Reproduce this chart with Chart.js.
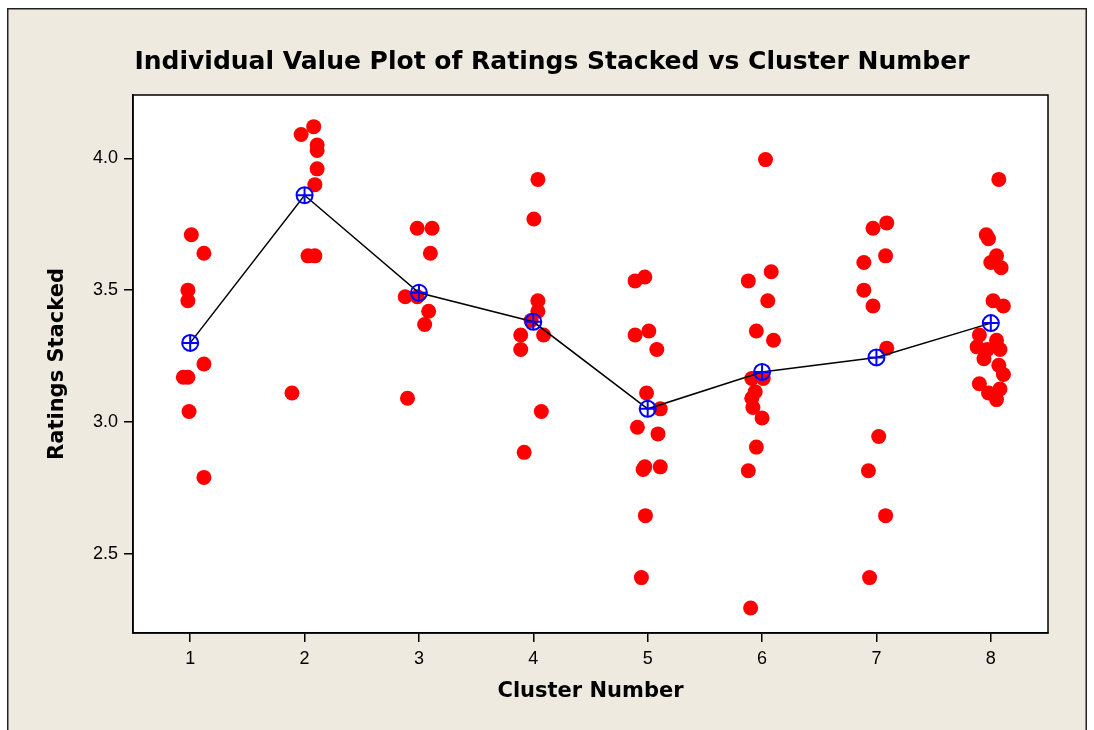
<!DOCTYPE html>
<html>
<head>
<meta charset="utf-8">
<script src="https://cdn.jsdelivr.net/npm/chart.js@4.4.1/dist/chart.umd.min.js"></script>
<style>
  html, body { margin: 0; padding: 0; background: #ffffff; }
  #wrap { width: 1094px; height: 730px; }
</style>
</head>
<body>
<div id="wrap"><canvas id="c" width="1094" height="730"></canvas></div>
<script>
// ---- data ----
const chartTitle = 'Individual Value Plot of Ratings Stacked vs Cluster Number';
const xAxisTitle = 'Cluster Number';
const yAxisTitle = 'Ratings Stacked';
const clusterNumbers = [1, 2, 3, 4, 5, 6, 7, 8];
const yTickValues = [2.5, 3.0, 3.5, 4.0];
const clusterMeans = [3.30, 3.86, 3.49, 3.38, 3.05, 3.19, 3.245, 3.375];

// individual ratings per cluster, with the jittered x position each dot was plotted at
const ratings1 = [3.71, 3.64, 3.50, 3.46, 3.22, 3.17, 3.17, 3.04, 2.79];
const jitterX1 = [1.01, 1.12, 0.98, 0.98, 1.12, 0.94, 0.98, 0.99, 1.12];
const ratings2 = [4.12, 4.09, 4.05, 4.03, 3.96, 3.90, 3.63, 3.63, 3.11];
const jitterX2 = [2.08, 1.97, 2.11, 2.11, 2.11, 2.09, 2.03, 2.09, 1.89];
const ratings3 = [3.735, 3.735, 3.64, 3.475, 3.475, 3.42, 3.37, 3.09];
const jitterX3 = [2.985, 3.115, 3.10, 2.88, 2.985, 3.085, 3.05, 2.90];
const ratings4 = [3.92, 3.77, 3.46, 3.42, 3.385, 3.33, 3.33, 3.275, 3.04, 2.885];
const jitterX4 = [4.04, 4.005, 4.04, 4.04, 3.98, 3.89, 4.09, 3.89, 4.07, 3.92];
const ratings5 = [3.55, 3.535, 3.345, 3.33, 3.275, 3.11, 3.05, 2.98, 2.955, 2.83, 2.82, 2.83, 2.645, 2.41];
const jitterX5 = [4.975, 4.89, 5.01, 4.89, 5.08, 4.99, 5.11, 4.91, 5.09, 4.975, 4.96, 5.11, 4.98, 4.945];
const ratings6 = [3.995, 3.57, 3.535, 3.46, 3.345, 3.31, 3.165, 3.165, 3.115, 3.09, 3.055, 3.015, 2.905, 2.815, 2.295];
const jitterX6 = [6.03, 6.08, 5.88, 6.05, 5.95, 6.10, 5.91, 6.01, 5.94, 5.91, 5.92, 6.00, 5.95, 5.88, 5.90];
const ratings7 = [3.755, 3.735, 3.63, 3.605, 3.50, 3.44, 3.28, 2.945, 2.815, 2.645, 2.41];
const jitterX7 = [7.09, 6.97, 7.08, 6.89, 6.89, 6.97, 7.09, 7.02, 6.93, 7.08, 6.94];
const ratings8 = [3.92, 3.71, 3.695, 3.63, 3.605, 3.585, 3.46, 3.44, 3.33, 3.31, 3.285, 3.275, 3.275, 3.24, 3.215, 3.18, 3.145, 3.125, 3.11, 3.085];
const jitterX8 = [8.07, 7.96, 7.98, 8.05, 8.00, 8.09, 8.02, 8.11, 7.90, 8.05, 7.88, 7.97, 8.08, 7.94, 8.07, 8.11, 7.90, 8.08, 7.98, 8.05];

// ---- build library structures ----
const allRatings = [ratings1, ratings2, ratings3, ratings4, ratings5, ratings6, ratings7, ratings8];
const allJitter = [jitterX1, jitterX2, jitterX3, jitterX4, jitterX5, jitterX6, jitterX7, jitterX8];
const dotPoints = [];
allRatings.forEach((arr, i) => arr.forEach((v, j) => dotPoints.push({ x: allJitter[i][j], y: v })));
const meanPoints = clusterNumbers.map((c, i) => ({ x: c, y: clusterMeans[i] }));

const FONT = "'Liberation Sans', Arial, sans-serif";
const BOLDFONT = "'DejaVu Sans', Verdana, sans-serif";
const BEIGE = '#EEEAE0';

const framePlugin = {
  id: 'frame',
  beforeDraw(chart) {
    const ctx = chart.ctx;
    const a = chart.chartArea;
    ctx.save();
    ctx.fillStyle = '#ffffff';
    ctx.fillRect(0, 0, chart.width, chart.height);
    ctx.fillStyle = BEIGE;
    ctx.fillRect(8, 9, 1078, chart.height - 9);
    ctx.strokeStyle = '#222';
    ctx.lineWidth = 1.5;
    ctx.beginPath();
    ctx.moveTo(7.75, chart.height);
    ctx.lineTo(7.75, 8.75);
    ctx.lineTo(1086.25, 8.75);
    ctx.lineTo(1086.25, chart.height);
    ctx.stroke();
    ctx.fillStyle = '#ffffff';
    ctx.fillRect(a.left, a.top, a.right - a.left, a.bottom - a.top);
    ctx.restore();
  },
  afterDraw(chart) {
    const ctx = chart.ctx;
    const a = chart.chartArea;
    ctx.save();
    ctx.strokeStyle = '#000';
    ctx.lineWidth = 1.5;
    ctx.strokeRect(a.left, a.top, a.right - a.left, a.bottom - a.top);
    ctx.fillStyle = '#000';
    ctx.font = "bold 25px " + BOLDFONT;
    ctx.textAlign = 'center';
    ctx.textBaseline = 'middle';
    ctx.fillText(chartTitle, 552, 62);
    ctx.restore();
  }
};

new Chart(document.getElementById('c'), {
  data: {
    datasets: [
      {
        type: 'line',
        label: 'Mean cross',
        data: meanPoints,
        showLine: false,
        pointStyle: 'cross',
        pointRadius: 8,
        pointBorderColor: '#0000FF',
        pointBorderWidth: 2,
        order: 1
      },
      {
        type: 'line',
        label: 'Mean',
        data: meanPoints,
        borderColor: '#000000',
        borderWidth: 1.5,
        tension: 0,
        fill: false,
        pointStyle: 'circle',
        pointRadius: 8,
        pointBorderColor: '#0000FF',
        pointBackgroundColor: 'rgba(0,0,0,0)',
        pointBorderWidth: 2,
        order: 2
      },
      {
        type: 'scatter',
        label: 'Ratings Stacked',
        data: dotPoints,
        pointRadius: 7.5,
        pointBackgroundColor: '#FF0000',
        pointBorderWidth: 0,
        pointBorderColor: '#FF0000',
        order: 3
      }
    ]
  },
  options: {
    responsive: false,
    animation: false,
    devicePixelRatio: 1,
    layout: { padding: { left: 0, right: 46, top: 95, bottom: 0 } },
    plugins: {
      legend: { display: false },
      tooltip: { enabled: false },
      title: { display: false }
    },
    scales: {
      x: {
        type: 'linear',
        min: 0.5,
        max: 8.5,
        afterBuildTicks: s => { s.ticks = clusterNumbers.map(v => ({ value: v })); },
        afterFit: s => { s.height = 97; },
        grid: { drawOnChartArea: false, drawTicks: true, tickLength: 9, color: '#000', lineWidth: 1.5 },
        border: { display: true, color: '#000', width: 1.5 },
        ticks: { padding: 6, color: '#000', font: { family: FONT, size: 18 }, callback: v => String(v), maxRotation: 0 },
        title: { display: true, text: xAxisTitle, color: '#000', font: { family: BOLDFONT, size: 21, weight: 'bold' }, padding: { top: 0, bottom: 26 } }
      },
      y: {
        type: 'linear',
        min: 2.2,
        max: 4.24,
        afterBuildTicks: s => { s.ticks = yTickValues.map(v => ({ value: v })); },
        afterFit: s => { s.width = 133; },
        grid: { drawOnChartArea: false, drawTicks: true, tickLength: 9, color: '#000', lineWidth: 1.5 },
        border: { display: true, color: '#000', width: 1.5 },
        ticks: { padding: 6, color: '#000', font: { family: FONT, size: 18 }, callback: v => Number(v).toFixed(1) },
        title: { display: true, text: yAxisTitle, color: '#000', font: { family: BOLDFONT, size: 21, weight: 'bold' }, padding: { top: 45, bottom: 0 } }
      }
    }
  },
  plugins: [framePlugin]
});
</script>
</body>
</html>
